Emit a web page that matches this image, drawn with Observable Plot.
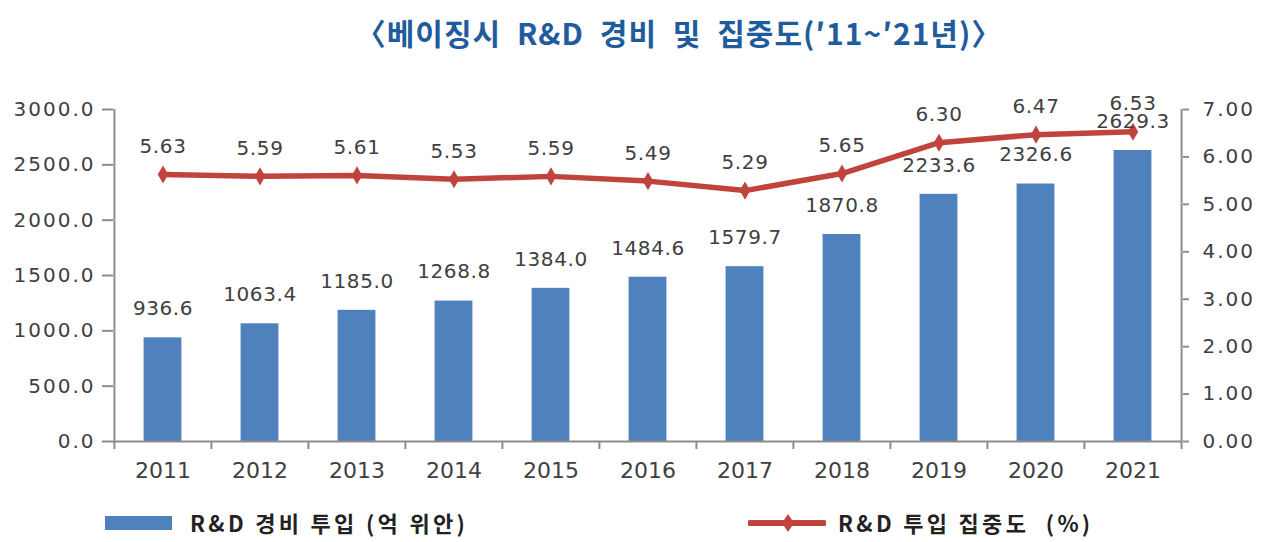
<!DOCTYPE html>
<html>
<head>
<meta charset="utf-8">
<script src="https://cdn.jsdelivr.net/npm/d3@7"></script>
<script src="https://cdn.jsdelivr.net/npm/@observablehq/plot@0.6"></script>
<style>
  html, body { margin: 0; padding: 0; background: #fff; }
  #wrap { position: relative; width: 1271px; height: 542px; overflow: hidden; }
  #title { position: absolute; left: 679px; top: 8px; transform: translateX(-50%); white-space: nowrap;
    font-family: "Noto Sans CJK KR", sans-serif; font-weight: 700; font-size: 30px; color: #1f5c9e; line-height: 48px;
    letter-spacing: 1px; word-spacing: 8px; }
  #chart { position: absolute; left: 0; top: 60px; }
  .leg { position: absolute; font-family: "Noto Sans CJK KR", sans-serif; font-weight: 700; font-size: 22px;
    color: #222; letter-spacing: 3.3px; white-space: nowrap; line-height: 26px; }
  g[aria-label="y-axis tick label"] text { letter-spacing: 2px; font-size: 20px; }
  g[aria-label="text"] text { letter-spacing: 0.6px; }
</style>
</head>
<body>
<div id="wrap">
  <div id="title">〈베이징시 R&amp;D 경비 및 집중도(′11~′21년)〉</div>
  <div id="chart"></div>
  <div style="position:absolute;left:105px;top:516px;width:67px;height:14px;background:#4f81bd;"></div>
  <div class="leg" style="left:190px;top:509px;">R&amp;D 경비 투입 (억 위안)</div>
  <svg style="position:absolute;left:748px;top:511px;" width="78" height="24">
    <line x1="2" y1="12" x2="76" y2="12" stroke="#c0433d" stroke-width="6" stroke-linecap="round"/>
    <path d="M40,3 L46,12 L40,21 L34,12 Z" fill="#c0433d"/>
  </svg>
  <div class="leg" style="left:838px;top:509px;">R&amp;D 투입 집중도 &nbsp;(%)</div>
</div>
<script>
const years = [2011, 2012, 2013, 2014, 2015, 2016, 2017, 2018, 2019, 2020, 2021];
const spend = [936.6, 1063.4, 1185.0, 1268.8, 1384.0, 1484.6, 1579.7, 1870.8, 2233.6, 2326.6, 2629.3];
const intensity = [5.63, 5.59, 5.61, 5.53, 5.59, 5.49, 5.29, 5.65, 6.30, 6.47, 6.53];
const leftTicks = [0, 500, 1000, 1500, 2000, 2500, 3000];
const rightTicks = [0, 1, 2, 3, 4, 5, 6, 7];

const W = 1271, H = 440, ML = 113, MR = 89, MT = 49, MB = 59;
const bw = (W - ML - MR) / years.length;
const leftMax = 3000, rightMax = 7;
const k = leftMax / rightMax;

const rows = years.map((year, i) => ({year, spend: spend[i], pct: intensity[i], pctY: intensity[i] * k}));

const axisGray = "#8c8c8c";
const textCol = "#404040";
const font = "DejaVu Sans, Verdana, sans-serif";

const chart = Plot.plot({
  width: W, height: H,
  marginLeft: ML, marginRight: MR, marginTop: MT, marginBottom: MB,
  style: {fontFamily: font, background: "#fff"},
  x: {type: "band", domain: years, padding: 0, axis: null},
  y: {domain: [0, leftMax], axis: null},
  marks: [
    Plot.barY(rows, {x: "year", y: "spend", fill: "#4f81bd", insetLeft: (bw - 38) / 2, insetRight: (bw - 38) / 2}),
    // axes lines
    Plot.ruleY([0], {stroke: axisGray, strokeWidth: 2}),
    Plot.ruleX([years[0]], {x: d => d, dx: -bw / 2, y1: leftMax, y2: 0, insetBottom: -8, stroke: axisGray, strokeWidth: 2}),
    Plot.ruleX([years[years.length - 1]], {x: d => d, dx: bw / 2, y1: leftMax, y2: 0, insetBottom: -8, stroke: axisGray, strokeWidth: 2}),
    Plot.ruleX(years.slice(1), {x: d => d, dx: -bw / 2, y1: 0, y2: 0, insetBottom: -8, stroke: axisGray, strokeWidth: 2}),
    Plot.axisY(leftTicks, {anchor: "left", tickSize: 11, tickPadding: 7, tickFormat: d => d.toFixed(1),
      stroke: axisGray, strokeWidth: 2, fill: textCol, fontSize: 20, label: null}),
    Plot.axisY(rightTicks.map(d => d * k), {anchor: "right", tickSize: 6, tickPadding: 14, tickFormat: d => (d / k).toFixed(2),
      stroke: axisGray, strokeWidth: 2, fill: textCol, fontSize: 20, label: null}),
    Plot.axisX(years, {anchor: "bottom", tickSize: 0, tickPadding: 21, tickFormat: d => String(d),
      fill: textCol, fontSize: 22, label: null}),
    // line
    Plot.line(rows, {x: "year", y: "pctY", stroke: "#c0433d", strokeWidth: 5.5}),
    Plot.dot(rows, {x: "year", y: "pctY", symbol: "diamond", r: 5.5, fill: "#c0433d", stroke: "none"}),
    // labels
    Plot.text(rows, {x: "year", y: "spend", text: d => d.spend.toFixed(1), dy: -29, fill: textCol, fontSize: 20}),
    Plot.text(rows, {x: "year", y: "pctY", text: d => d.pct.toFixed(2), dy: -28, fill: textCol, fontSize: 20})
  ]
});
document.getElementById("chart").appendChild(chart);
</script>
</body>
</html>
